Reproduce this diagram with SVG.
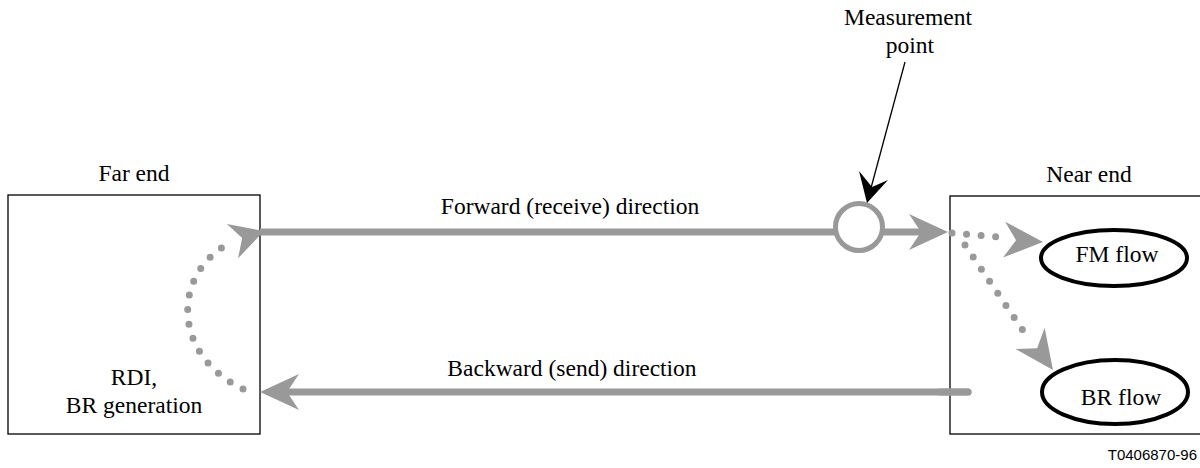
<svg xmlns="http://www.w3.org/2000/svg" width="1200" height="468" viewBox="0 0 1200 468">
<style>
.t{font-family:'Liberation Serif',serif;font-size:23.5px;fill:#000;text-anchor:middle}
.box{fill:#fff;stroke:#000;stroke-width:1.3}
.flow{fill:none;stroke:#999;stroke-width:7}
.dot{fill:none;stroke:#999;stroke-width:7;stroke-linecap:round;stroke-dasharray:0 14.6}
.ell{fill:#fff;stroke:#000;stroke-width:4}
.ah{fill:#999}
</style>
<defs>
<path id="ah" d="M0,0 L-39,-18 L-27,0 L-39,18 Z"/>
</defs>
<rect width="1200" height="468" fill="#fff"/>
<g id="far-end">
<rect class="box" x="8" y="195" width="252" height="239"/>
<text class="t" x="134" y="181" font-family="Liberation Serif, serif">Far end</text>
<text class="t" x="134" y="385" font-family="Liberation Serif, serif">RDI,</text>
<text class="t" x="134" y="413" font-family="Liberation Serif, serif">BR generation</text>
</g>
<g id="near-end">
<rect class="box" x="950" y="196" width="260" height="238"/>
<text class="t" x="1089" y="182" font-family="Liberation Serif, serif">Near end</text>
</g>
<g id="fm-flow">
<ellipse class="ell" cx="1114" cy="258" rx="73" ry="28"/>
<text class="t" x="1117" y="262" font-family="Liberation Serif, serif">FM flow</text>
</g>
<g id="br-flow">
<ellipse class="ell" cx="1115" cy="392" rx="73" ry="32"/>
<text class="t" x="1121" y="405" font-family="Liberation Serif, serif">BR flow</text>
</g>
<g id="connectors">
<line class="flow" x1="260" y1="232" x2="925" y2="232"/>
<use href="#ah" class="ah" transform="translate(948,232)"/>
<line class="flow" x1="968" y1="392" x2="285" y2="392" stroke-linecap="round"/>
<line class="flow" x1="968" y1="392" x2="940" y2="392" stroke-linecap="round"/>
<use href="#ah" class="ah" transform="translate(260,392) rotate(180)"/>
<path class="dot" d="M243,389 C172,355 172,275 228,244"/>
<use href="#ah" class="ah" transform="translate(264,231) rotate(-18) scale(0.85,1)"/>
<path class="dot" d="M952,233 L1000,237"/>
<use href="#ah" class="ah" transform="translate(1043,242) rotate(3.5)"/>
<path class="dot" d="M965,245 L1026,335"/>
<use href="#ah" class="ah" transform="translate(1053,370) rotate(54)"/>
</g>
<g id="measurement-point">
<circle cx="859" cy="227" r="23.5" fill="#fff" stroke="#999" stroke-width="5"/>
<line x1="905" y1="62" x2="871" y2="188" stroke="#000" stroke-width="1.3"/>
<path d="M867,203 L859,171 L872,187 L888,180 Z" fill="#000"/>
<text class="t" x="908" y="25" font-family="Liberation Serif, serif">Measurement</text>
<text class="t" x="910" y="53" font-family="Liberation Serif, serif">point</text>
</g>
<text class="t" x="570" y="214" font-family="Liberation Serif, serif">Forward (receive) direction</text>
<text class="t" x="572" y="376" font-family="Liberation Serif, serif">Backward (send) direction</text>
<text x="1197" y="460" font-family="Liberation Sans, Arial, sans-serif" font-size="15" text-anchor="end">T0406870-96</text>
</svg>
